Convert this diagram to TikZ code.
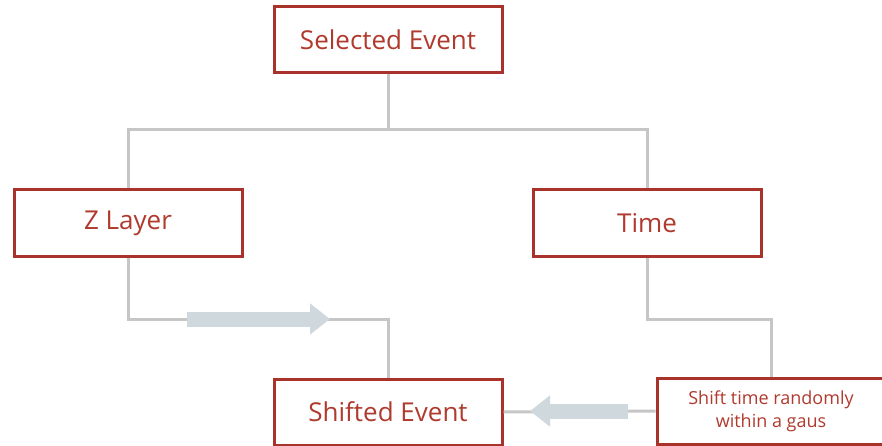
\documentclass[tikz,border=0pt]{standalone}
\usepackage{fontspec}
\setmainfont{Open Sans}
\usetikzlibrary{arrows.meta}
\definecolor{boxred}{HTML}{A9322A}
\definecolor{txtred}{HTML}{B03A2E}
\definecolor{linkgray}{HTML}{C6C6C6}
\definecolor{flowblue}{HTML}{CFD8DC}
\tikzset{
  box/.style={draw=boxred, line width=3pt, fill=white, text=txtred,
    minimum width=228pt, minimum height=66pt, inner sep=2pt,
    font=\fontsize{26}{30}\selectfont, align=center},
  smallbox/.style={box, font=\fontsize{18}{23}\selectfont},
  link/.style={draw=linkgray, line width=3pt},
  flow/.style={draw=flowblue, line width=15pt,
    -{Triangle[length=20pt, width=30pt]}}
}
\begin{document}
\begin{tikzpicture}[x=1pt, y=-1pt]
  \useasboundingbox (0,0) rectangle (882,446);
  \coordinate (split) at (388,130);
  \coordinate (merge) at (388,319);
  \coordinate (turn) at (771,319);
  \coordinate (fromz) at (187,319);
  \coordinate (toz) at (330,319);
  \coordinate (fromg) at (628,411);
  \coordinate (tog) at (530,411);
  % boxes
  \node[box] (sel) at (388,40) {Selected Event};
  \node[box] (zl) at (128,223) {Z Layer};
  \node[box] (time) at (647,223) {Time};
  \node[box] (shift) at (388,412) {Shifted Event};
  \node[smallbox] (gaus) at (771,411) {Shift time randomly\\within a gaus};
  % connectors
  \draw[link] (sel.south) -- (split);
  \draw[link] (zl.north) |- (split) -| (time.north);
  \draw[link] (zl.south) |- (merge) -- (shift.north);
  \draw[link] (time.south) |- (turn) -- (gaus.north);
  \draw[link] (gaus.west) -- (shift.east);
  \draw[flow] (fromz) -- (toz);
  \draw[flow] (fromg) -- (tog);
\end{tikzpicture}
\end{document}
